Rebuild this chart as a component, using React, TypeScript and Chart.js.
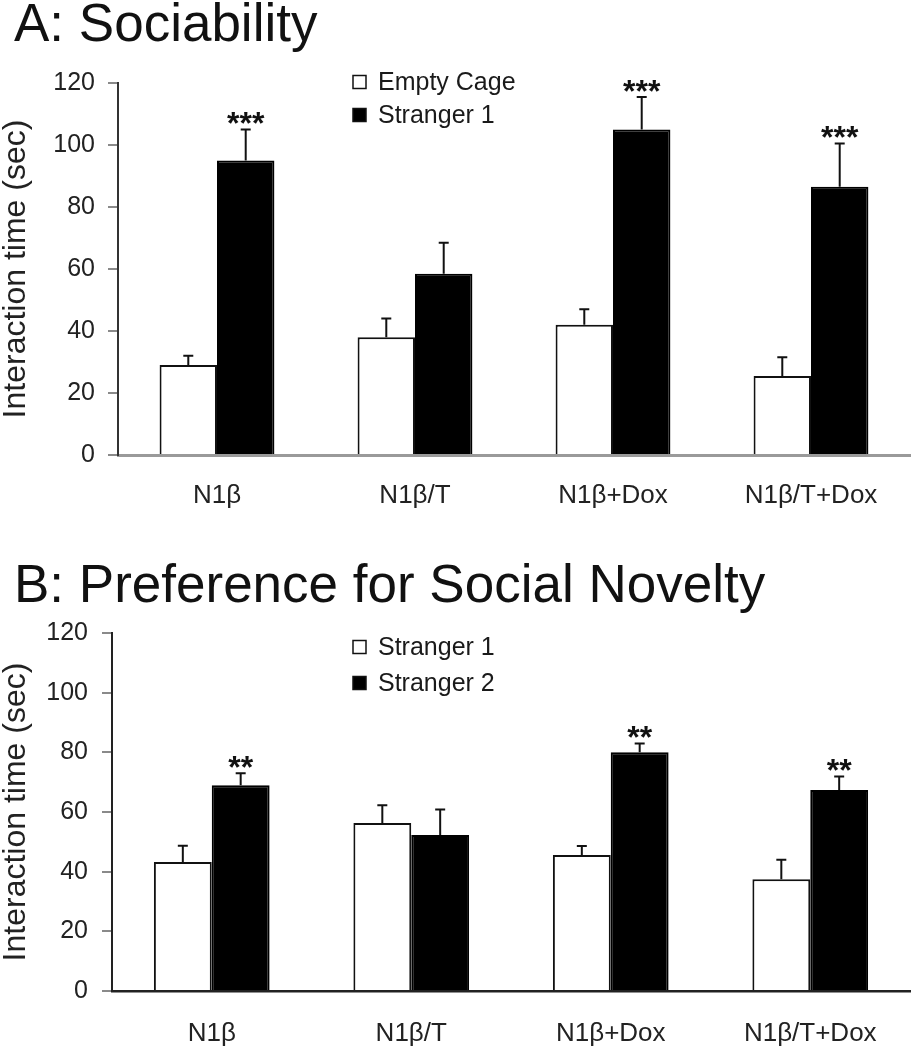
import React, { useEffect, useRef } from 'react';
import { Chart, registerables } from 'chart.js';

Chart.register(...registerables);

// ---------- data ----------
const groups = ['N1β', 'N1β/T', 'N1β+Dox', 'N1β/T+Dox'];

const titleA = 'A: Sociability';
const labelsA = ['Empty Cage', 'Stranger 1'];
const emptyCageA = [29, 38, 42, 25.5];
const emptyCageErrA = [3, 6, 5, 6];
const stranger1A = [95, 58.5, 105, 86.5];
const stranger1ErrA = [10, 10, 10.5, 14];
const starsA = ['***', '', '***', '***'];

const titleB = 'B: Preference for Social Novelty';
const labelsB = ['Stranger 1', 'Stranger 2'];
const stranger1B = [43.2, 56.3, 45.6, 37.5];
const stranger1ErrB = [5.5, 6, 3, 6.5];
const stranger2B = [69, 52.3, 80, 67.4];
const stranger2ErrB = [4, 8.5, 3, 4.5];
const starsB = ['**', '', '**', '**'];

const yAxisTitle = 'Interaction time (sec)';
const yMin = 0;
const yMax = 120;
const yStep = 20;

const FONT = "'Liberation Sans', Arial, Helvetica, sans-serif";

// ---------- plugin: error bars, significance stars, legend ----------
const annotPlugin = {
  id: 'annot',
  afterDatasetsDraw(chart: any, _args: any, opts: any) {
    const ctx = chart.ctx;
    const ys = chart.scales.y;
    const tops: number[][] = [];
    chart.data.datasets.forEach((ds: any, di: number) => {
      const meta = chart.getDatasetMeta(di);
      const errs = opts.errors[di];
      tops[di] = [];
      meta.data.forEach((bar: any, i: number) => {
        const v = ds.data[i] as number;
        const base = ys.getPixelForValue(v);
        const top = ys.getPixelForValue(v + errs[i]);
        tops[di][i] = top;
        ctx.save();
        ctx.strokeStyle = '#111';
        ctx.lineWidth = 2;
        ctx.beginPath();
        ctx.moveTo(bar.x, base);
        ctx.lineTo(bar.x, top);
        ctx.moveTo(bar.x - 5, top);
        ctx.lineTo(bar.x + 5, top);
        ctx.stroke();
        ctx.restore();
      });
    });
    // stars above the second dataset
    const last = chart.data.datasets.length - 1;
    const meta = chart.getDatasetMeta(last);
    const size = opts.starSize;
    ctx.save();
    ctx.fillStyle = '#111';
    ctx.font = `bold ${size}px ${FONT}`;
    ctx.textAlign = 'center';
    ctx.textBaseline = 'alphabetic';
    opts.stars.forEach((s: string, i: number) => {
      if (!s) return;
      const bar = meta.data[i];
      const cy = tops[last][i] - opts.starGap;
      ctx.fillText(s, bar.x, cy + 0.56 * size);
    });
    ctx.restore();
  },
  afterDraw(chart: any, _args: any, opts: any) {
    const ctx = chart.ctx;
    const lg = opts.legend;
    ctx.save();
    chart.data.datasets.forEach((ds: any, di: number) => {
      const y = lg.y[di];
      ctx.fillStyle = ds.backgroundColor;
      ctx.fillRect(lg.x, y - 6.5, 13, 13);
      ctx.strokeStyle = '#111';
      ctx.lineWidth = 1.5;
      ctx.strokeRect(lg.x, y - 6.5, 13, 13);
      ctx.fillStyle = '#1a1a1a';
      ctx.font = `${lg.fontSize}px ${FONT}`;
      ctx.textAlign = 'left';
      ctx.textBaseline = 'middle';
      ctx.fillText(ds.label, lg.x + 25, y + 1);
    });
    ctx.restore();
  },
};

type PanelCfg = {
  title: string;
  labels: string[];
  series: number[][];
  errors: number[][];
  stars: string[];
  titlePadTop: number;
  titlePadBottom: number;
  yWidth: number;
  xHeight: number;
  yTickPad: number;
  xTickPad: number;
  yBorder: string;
  xBorder: string;
  xBorderWidth: number;
  legendY: number[];
};

function makeConfig(p: PanelCfg): any {
  return {
    type: 'bar',
    data: {
      labels: groups,
      datasets: [
        {
          label: p.labels[0],
          data: p.series[0],
          backgroundColor: '#ffffff',
          borderColor: '#111111',
          borderWidth: 2,
          borderSkipped: 'bottom',
          barPercentage: 1,
          categoryPercentage: 0.58,
        },
        {
          label: p.labels[1],
          data: p.series[1],
          backgroundColor: '#000000',
          borderColor: '#000000',
          borderWidth: 2,
          borderSkipped: 'bottom',
          barPercentage: 1,
          categoryPercentage: 0.58,
        },
      ],
    },
    options: {
      animation: false,
      responsive: false,
      devicePixelRatio: 1,
      layout: { padding: { left: 14, right: 4, top: 0, bottom: 0 } },
      plugins: {
        legend: { display: false },
        tooltip: { enabled: false },
        title: {
          display: true,
          text: p.title,
          align: 'start',
          color: '#111',
          font: { family: FONT, size: 53, weight: 'normal', lineHeight: 0.9 },
          padding: { top: p.titlePadTop, bottom: p.titlePadBottom },
        },
        annot: {
          errors: p.errors,
          stars: p.stars,
          starSize: 32,
          starGap: 13,
          legend: { x: 353, y: p.legendY, fontSize: 25 },
        },
      },
      scales: {
        x: {
          grid: { display: false, drawTicks: false },
          border: { display: true, color: p.xBorder, width: p.xBorderWidth },
          ticks: { font: { family: FONT, size: 26 }, color: '#222', padding: p.xTickPad },
          afterFit(s: any) {
            s.height = p.xHeight;
          },
        },
        y: {
          min: yMin,
          max: yMax,
          ticks: { stepSize: yStep, font: { family: FONT, size: 25 }, color: '#222', padding: p.yTickPad },
          grid: { drawOnChartArea: false, drawTicks: true, tickLength: 10, color: '#8a8a8a', lineWidth: 2 },
          border: { display: true, color: p.yBorder, width: 2 },
          title: {
            display: true,
            text: yAxisTitle,
            color: '#222',
            font: { family: FONT, size: 32, lineHeight: 1 },
            padding: { top: -14, bottom: 0 },
          },
          afterFit(s: any) {
            s.width = p.yWidth;
          },
        },
      },
    },
    plugins: [annotPlugin],
  };
}

const panelA: PanelCfg = {
  title: titleA,
  labels: labelsA,
  series: [emptyCageA, stranger1A],
  errors: [emptyCageErrA, stranger1ErrA],
  stars: starsA,
  titlePadTop: 3,
  titlePadBottom: 32.3,
  yWidth: 104,
  xHeight: 70,
  yTickPad: 13,
  xTickPad: 25,
  yBorder: '#333333',
  xBorder: '#9a9a9a',
  xBorderWidth: 3,
  legendY: [82, 115],
};

const panelB: PanelCfg = {
  title: titleB,
  labels: labelsB,
  series: [stranger1B, stranger2B],
  errors: [stranger1ErrB, stranger2ErrB],
  stars: starsB,
  titlePadTop: 38.6,
  titlePadBottom: 21.7,
  yWidth: 98,
  xHeight: 59,
  yTickPad: 14,
  xTickPad: 27,
  yBorder: '#222222',
  xBorder: '#222222',
  xBorderWidth: 2.5,
  legendY: [122, 158],
};

function Panel({ cfg, top }: { cfg: PanelCfg; top: number }) {
  const ref = useRef<HTMLCanvasElement | null>(null);
  useEffect(() => {
    if (!ref.current) return;
    const chart = new Chart(ref.current, makeConfig(cfg));
    return () => chart.destroy();
  }, [cfg]);
  return (
    <div style={{ position: 'absolute', left: 0, top, width: 914, height: 525 }}>
      <canvas ref={ref} width={914} height={525} style={{ display: 'block', width: 914, height: 525 }} />
    </div>
  );
}

export default function App() {
  return (
    <div style={{ position: 'absolute', left: 0, top: 0, width: 914, height: 1050, background: '#fff' }}>
      <Panel cfg={panelA} top={0} />
      <Panel cfg={panelB} top={525} />
    </div>
  );
}
